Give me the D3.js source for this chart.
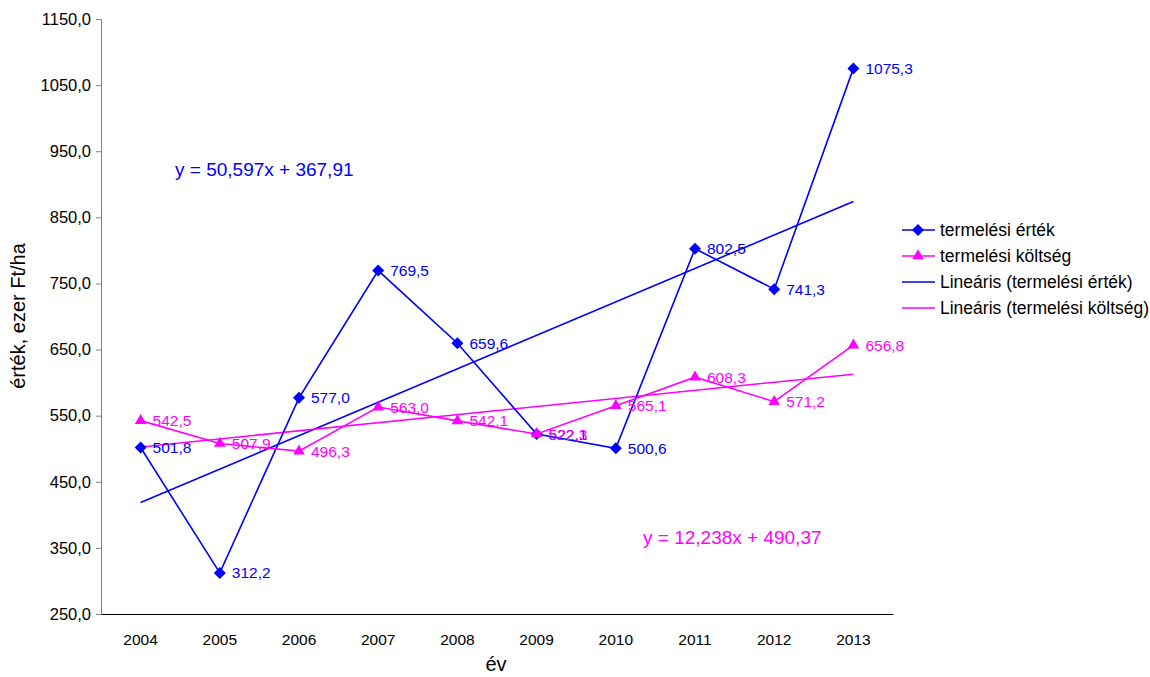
<!DOCTYPE html>
<html><head><meta charset="utf-8">
<script src="https://cdn.jsdelivr.net/npm/d3@7"></script>
<style>body{margin:0;background:#fff}svg{display:block;font-family:"Liberation Sans",Arial,sans-serif}</style>
</head><body><svg id="c" width="1150" height="677"></svg>
<script>
const years = ["2004","2005","2006","2007","2008","2009","2010","2011","2012","2013"];
const ertek = [501.8,312.2,577.0,769.5,659.6,522.1,500.6,802.5,741.3,1075.3];
const koltseg = [542.5,507.9,496.3,563.0,542.1,522.3,565.1,608.3,571.2,656.8];
const yTicks = [250,350,450,550,650,750,850,950,1050,1150];
const trendErtek = {a:50.597, b:367.91};
const trendKoltseg = {a:12.238, b:490.37};
const seriesNames = ["termelési érték","termelési költség","Lineáris (termelési érték)","Lineáris (termelési költség)"];

const svg = d3.select("#c");
const blue="#0000ff", pink="#ff00ff";
const fmt = v => d3.format(".1f")(v).replace(".", ",");
const x = d3.scaleBand().domain(years).range([101,893]);
const y = d3.scaleLinear().domain([250,1150]).range([614,19]);
const cx = d => x(d)+x.bandwidth()/2;

// axes
const yAxis = d3.axisLeft(y).tickValues(yTicks).tickFormat(fmt).tickSize(5).tickPadding(5);
const gy = svg.append("g").attr("transform","translate(101,0)").call(yAxis);
gy.selectAll("text").style("font-size","16.5px").attr("fill","#000");
gy.selectAll("line,path").attr("stroke","#808080");
const gx = svg.append("g").attr("transform","translate(0,614)").call(d3.axisBottom(x).tickSize(0).tickPadding(20));
gx.select("path").attr("stroke","#000");
gx.selectAll("text").style("font-size","15.5px").attr("fill","#000");
gx.selectAll(".b").data(d3.range(years.length+1)).enter().append("line")
  .attr("x1",i=>101+i*x.bandwidth()).attr("x2",i=>101+i*x.bandwidth()).attr("y1",614).attr("y2",620).attr("stroke","#000");

// titles
svg.append("text").attr("transform","translate(25,316) rotate(-90)").attr("text-anchor","middle").style("font-size","20px").text("érték, ezer Ft/ha");
svg.append("text").attr("x",496).attr("y",671).attr("text-anchor","middle").style("font-size","20px").text("év");

// trend lines
function trend(t,color){
  svg.append("line").attr("x1",cx(years[0])).attr("x2",cx(years[years.length-1]))
    .attr("y1",y(t.a*1+t.b)).attr("y2",y(t.a*years.length+t.b)).attr("stroke",color).attr("stroke-width",1.6);
}
trend(trendErtek,blue); trend(trendKoltseg,pink);

const diamond = "M0,-6L6,0L0,6L-6,0Z";
const tri = d3.symbol().type(d3.symbolTriangle).size(58)();
const line = d3.line().x((d,i)=>cx(years[i])).y(d=>y(d));
function series(vals,color,shape){
  svg.append("path").datum(vals).attr("d",line).attr("fill","none").attr("stroke",color).attr("stroke-width",1.6);
  svg.selectAll(null).data(vals).enter().append("path")
    .attr("transform",(d,i)=>`translate(${cx(years[i])},${y(d)})`)
    .attr("d",shape).attr("fill",color);
  svg.selectAll(null).data(vals).enter().append("text")
    .attr("x",(d,i)=>cx(years[i])+12).attr("y",d=>y(d)).attr("dy","0.36em")
    .attr("fill",color).style("font-size","15.5px").text(fmt);
}
series(ertek,blue,diamond);
series(koltseg,pink,tri);

// equations
svg.append("text").attr("x",175).attr("y",176).attr("fill",blue).style("font-size","19px").text("y = 50,597x + 367,91");
svg.append("text").attr("x",643).attr("y",544).attr("fill",pink).style("font-size","19px").text("y = 12,238x + 490,37");

// legend
const lg = svg.append("g");
const colors=[blue,pink,blue,pink];
seriesNames.forEach((n,i)=>{
  const yy=230+i*26;
  lg.append("line").attr("x1",902).attr("x2",935).attr("y1",yy).attr("y2",yy).attr("stroke",colors[i]).attr("stroke-width",1.6);
  if(i<2) lg.append("path").attr("transform",`translate(918,${yy})`).attr("d",i==0?diamond:tri).attr("fill",colors[i]);
  lg.append("text").attr("x",940).attr("y",yy).attr("dy","0.36em").style("font-size","17.5px").text(n);
});
</script></body></html>
